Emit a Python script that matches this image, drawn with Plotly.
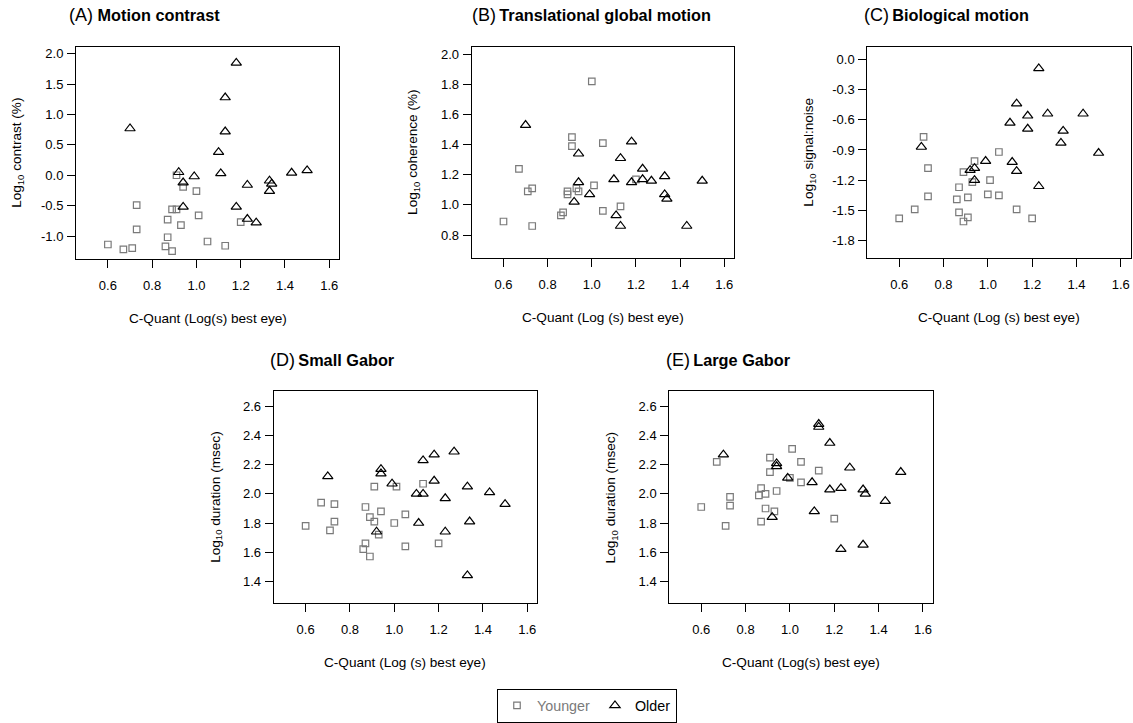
import plotly.graph_objects as go

W, H = 1133, 723

# ---------------- data ----------------
A_young_x = [0.60, 0.67, 0.71, 0.73, 0.73, 0.86, 0.87, 0.87, 0.89, 0.89, 0.91, 0.91, 0.94, 0.93, 1.00, 1.01, 1.05, 1.13, 1.20]
A_young_y = [-1.14, -1.22, -1.20, -0.49, -0.89, -1.17, -1.02, -0.73, -1.25, -0.56, -0.56, 0.00, -0.19, -0.82, -0.26, -0.66, -1.09, -1.16, -0.77]
A_old_x = [0.70, 0.92, 0.94, 0.94, 0.99, 1.10, 1.11, 1.13, 1.13, 1.18, 1.18, 1.23, 1.23, 1.27, 1.33, 1.33, 1.34, 1.43, 1.50]
A_old_y = [0.77, 0.05, -0.12, -0.52, -0.02, 0.38, 0.03, 0.72, 1.28, 1.85, -0.52, -0.16, -0.72, -0.78, -0.09, -0.26, -0.14, 0.04, 0.08]

B_young_x = [0.60, 0.67, 0.71, 0.73, 0.73, 0.86, 0.87, 0.89, 0.89, 0.91, 0.91, 0.93, 0.94, 1.00, 1.01, 1.05, 1.05, 1.13, 1.20]
B_young_y = [0.89, 1.24, 1.09, 1.11, 0.86, 0.93, 0.95, 1.09, 1.07, 1.45, 1.39, 1.11, 1.09, 1.82, 1.13, 1.41, 0.96, 0.99, 1.17]
B_old_x = [0.70, 0.92, 0.94, 0.94, 0.99, 1.10, 1.11, 1.13, 1.13, 1.18, 1.18, 1.23, 1.23, 1.27, 1.33, 1.33, 1.34, 1.43, 1.50]
B_old_y = [1.53, 1.02, 1.34, 1.15, 1.07, 1.17, 0.93, 1.31, 0.86, 1.42, 1.15, 1.24, 1.17, 1.16, 1.19, 1.07, 1.04, 0.86, 1.16]

C_young_x = [0.60, 0.67, 0.71, 0.73, 0.73, 0.86, 0.87, 0.87, 0.89, 0.89, 0.91, 0.91, 0.93, 0.94, 1.00, 1.01, 1.05, 1.05, 1.13, 1.20]
C_young_y = [-1.58, -1.49, -0.77, -1.08, -1.36, -1.39, -1.27, -1.52, -1.12, -1.61, -1.37, -1.57, -1.22, -1.01, -1.34, -1.20, -0.92, -1.35, -1.49, -1.58]
C_old_x = [0.70, 0.92, 0.94, 0.94, 0.99, 1.10, 1.11, 1.13, 1.13, 1.18, 1.18, 1.23, 1.23, 1.27, 1.33, 1.34, 1.43, 1.50]
C_old_y = [-0.87, -1.10, -1.08, -1.20, -1.01, -0.63, -1.02, -0.44, -1.11, -0.56, -0.69, -0.09, -1.26, -0.54, -0.83, -0.71, -0.54, -0.93]

D_young_x = [0.60, 0.67, 0.71, 0.73, 0.73, 0.86, 0.87, 0.87, 0.89, 0.89, 0.91, 0.91, 0.93, 0.94, 1.00, 1.01, 1.05, 1.05, 1.13, 1.20]
D_young_y = [1.78, 1.94, 1.75, 1.93, 1.81, 1.62, 1.66, 1.91, 1.84, 1.57, 2.05, 1.81, 1.72, 1.88, 1.80, 2.05, 1.86, 1.64, 2.07, 1.66]
D_old_x = [0.70, 0.92, 0.94, 0.94, 0.99, 1.10, 1.11, 1.13, 1.13, 1.18, 1.18, 1.23, 1.23, 1.27, 1.33, 1.33, 1.34, 1.43, 1.50]
D_old_y = [2.12, 1.74, 2.17, 2.14, 2.07, 2.00, 1.80, 2.23, 2.00, 2.27, 2.09, 1.97, 1.74, 2.29, 2.05, 1.44, 1.81, 2.01, 1.93]

E_young_x = [0.60, 0.67, 0.71, 0.73, 0.73, 0.86, 0.87, 0.87, 0.89, 0.89, 0.91, 0.91, 0.93, 0.94, 1.00, 1.01, 1.05, 1.05, 1.13, 1.20]
E_young_y = [1.91, 2.22, 1.78, 1.98, 1.92, 1.99, 2.04, 1.81, 2.00, 1.90, 2.15, 2.25, 1.88, 2.02, 2.11, 2.31, 2.22, 2.08, 2.16, 1.83]
E_old_x = [0.70, 0.92, 0.94, 0.94, 0.99, 1.10, 1.11, 1.13, 1.13, 1.18, 1.18, 1.23, 1.23, 1.27, 1.33, 1.33, 1.34, 1.43, 1.50]
E_old_y = [2.27, 1.84, 2.21, 2.19, 2.11, 2.08, 1.88, 2.48, 2.46, 2.35, 2.03, 2.04, 1.62, 2.18, 2.03, 1.65, 2.00, 1.95, 2.15]

x_ticks = [0.6, 0.8, 1.0, 1.2, 1.4, 1.6]
x_ticklabels = ["0.6", "0.8", "1.0", "1.2", "1.4", "1.6"]
A_yticks = [-1.0, -0.5, 0.0, 0.5, 1.0, 1.5, 2.0]
A_yticklabels = ["-1.0", "-0.5", "0.0", "0.5", "1.0", "1.5", "2.0"]
B_yticks = [0.8, 1.0, 1.2, 1.4, 1.6, 1.8, 2.0]
B_yticklabels = ["0.8", "1.0", "1.2", "1.4", "1.6", "1.8", "2.0"]
C_yticks = [-1.8, -1.5, -1.2, -0.9, -0.6, -0.3, 0.0]
C_yticklabels = ["-1.8", "-1.5", "-1.2", "-0.9", "-0.6", "-0.3", "0.0"]
DE_yticks = [1.4, 1.6, 1.8, 2.0, 2.2, 2.4, 2.6]
DE_yticklabels = ["1.4", "1.6", "1.8", "2.0", "2.2", "2.4", "2.6"]

group_names = ["Younger", "Older"]
panel_letters = ["(A)", "(B)", "(C)", "(D)", "(E)"]
panel_titles = ["Motion contrast", "Translational global motion", "Biological motion", "Small Gabor", "Large Gabor"]
x_titles = ["C-Quant (Log(s) best eye)", "C-Quant (Log (s) best eye)", "C-Quant (Log (s) best eye)",
            "C-Quant (Log (s) best eye)", "C-Quant (Log(s) best eye)"]
y_titles = ["Log<sub>10</sub> contrast (%)", "Log<sub>10</sub> coherence (%)", "Log<sub>10</sub> signal:noise",
            "Log<sub>10</sub> duration (msec)", "Log<sub>10</sub> duration (msec)"]

# ---------------- layout geometry (pixels) ----------------
FONT = "Liberation Sans, Arial, Helvetica, sans-serif"
GREY = "#7a7a7a"

def fx(p):
    return p / W

def fy(p):
    return 1 - p / H

# (left, right, top, bottom) of each plot box in pixels
boxes = [
    (76, 339, 47, 260),
    (471.7, 734, 46.7, 259),
    (867.3, 1130.5, 46.7, 259.3),
    (273.7, 537, 392.7, 605.7),
    (669.3, 932.7, 392.7, 605.7),
]
x_range = [0.456, 1.644]
y_ranges = [[-1.377, 2.115], [0.648, 2.052], [-1.975, 0.128], [1.249, 2.707], [1.249, 2.707]]
y_tickvals = [A_yticks, B_yticks, C_yticks, DE_yticks, DE_yticks]
y_ticktexts = [A_yticklabels, B_yticklabels, C_yticklabels, DE_yticklabels, DE_yticklabels]
title_x = [68, 470.7, 862.7, 269, 665]
title_y = [15, 15, 15, 361.7, 361.7]
title_sep = [" ", "\u2009", "\u2009", "\u2009", "\u2009"]

data_young = [(A_young_x, A_young_y), (B_young_x, B_young_y), (C_young_x, C_young_y),
              (D_young_x, D_young_y), (E_young_x, E_young_y)]
data_old = [(A_old_x, A_old_y), (B_old_x, B_old_y), (C_old_x, C_old_y),
            (D_old_x, D_old_y), (E_old_x, E_old_y)]

fig = go.Figure()
layout_axes = {}
annotations = []

for i in range(5):
    n = "" if i == 0 else str(i + 1)
    xa, ya = "x" + n, "y" + n
    (yx, yy), (ox, oy) = data_young[i], data_old[i]
    fig.add_trace(go.Scatter(
        x=yx, y=yy, mode="markers", xaxis=xa, yaxis=ya,
        name=f'<span style="color:{GREY}">{group_names[0]}</span>',
        legendgroup="young", showlegend=(i == 0),
        marker=dict(symbol="square-open", size=6.5, color=GREY, line=dict(width=1.2, color=GREY)),
        cliponaxis=False,
    ))
    fig.add_trace(go.Scatter(
        x=ox, y=oy, mode="markers", xaxis=xa, yaxis=ya,
        name=group_names[1], legendgroup="old", showlegend=(i == 0),
        marker=dict(symbol="triangle-up-open", size=9, color="black", line=dict(width=1.2, color="black")),
        cliponaxis=False,
    ))
    l, r, t, b = boxes[i]
    common = dict(showline=True, linecolor="black", linewidth=1, mirror=True,
                  ticks="outside", ticklen=8, tickwidth=1, tickcolor="black",
                  showgrid=False, zeroline=False,
                  tickfont=dict(family=FONT, size=13, color="black"))
    layout_axes["xaxis" + n] = dict(
        domain=[fx(l), fx(r)], anchor=ya, range=x_range,
        tickmode="array", tickvals=x_ticks, ticktext=x_ticklabels,
        ticklabelstandoff=6, **common)
    layout_axes["yaxis" + n] = dict(
        domain=[fy(b), fy(t)], anchor=xa, range=y_ranges[i],
        tickmode="array", tickvals=y_tickvals[i], ticktext=y_ticktexts[i],
        ticklabelstandoff=1, **common)

    # panel title
    annotations.append(dict(
        xref="paper", yref="paper", x=fx(title_x[i]), y=fy(title_y[i]),
        xanchor="left", yanchor="middle", showarrow=False, borderpad=0,
        text=f'<span style="font-size:18px">{panel_letters[i]}</span>{title_sep[i]}<b>{panel_titles[i]}</b>',
        font=dict(family=FONT, size=16.3, color="black"),
    ))
    # x axis title
    annotations.append(dict(
        xref="paper", yref="paper", x=fx((l + r) / 2), y=fy(b + 60),
        xanchor="center", yanchor="middle", showarrow=False,
        text=x_titles[i], font=dict(family=FONT, size=13.6, color="black"),
    ))
    # y axis title
    annotations.append(dict(
        xref="paper", yref="paper", x=fx(l - 58), y=fy((t + b) / 2),
        xanchor="center", yanchor="middle", showarrow=False, textangle=-90,
        text=y_titles[i], font=dict(family=FONT, size=13.6, color="black"),
    ))

fig.update_layout(
    width=W, height=H,
    margin=dict(l=0, r=0, t=0, b=0),
    paper_bgcolor="white", plot_bgcolor="white",
    annotations=annotations,
    showlegend=True,
    legend=dict(
        orientation="h", x=fx(587), xanchor="center", y=fy(691.5), yanchor="top",
        bordercolor="black", borderwidth=1, bgcolor="white",
        font=dict(family=FONT, size=14.3, color="black"),
        itemwidth=30, tracegroupgap=0,
    ),
    **layout_axes,
)

fig.write_html(
    "out.html",
    config={"displayModeBar": False},
    post_script="document.body.style.margin='0';document.body.style.padding='0';"
                "document.body.style.overflow='hidden';",
)
